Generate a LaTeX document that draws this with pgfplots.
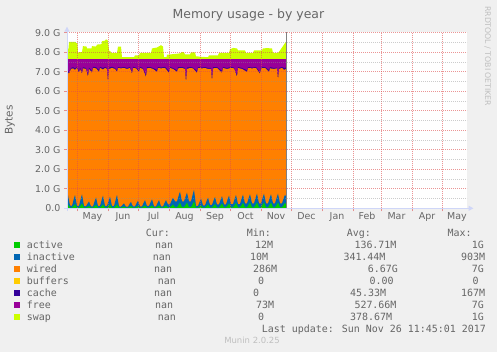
\documentclass[border=0pt]{standalone}
\usepackage{pgfplots}
\pgfplotsset{compat=1.18}
\usepackage{pgfplotstable}
\usepackage{fontspec}
\setmainfont{DejaVu Sans}
\newfontfamily\dejamono{DejaVu Sans Mono}
\usetikzlibrary{arrows.meta}
\definecolor{bg}{HTML}{F0F0F0}
\definecolor{fontc}{HTML}{666666}
\definecolor{axisc}{HTML}{CFD6F8}
\definecolor{cactive}{HTML}{00CC00}
\definecolor{cinactive}{HTML}{0066B3}
\definecolor{cwired}{HTML}{FF8000}
\definecolor{cbuffers}{HTML}{FFCC00}
\definecolor{ccache}{HTML}{330099}
\definecolor{cfree}{HTML}{990099}
\definecolor{cswap}{HTML}{CCFF00}
\definecolor{mgridc}{rgb}{0.87,0.31,0.31}
\definecolor{gridc}{rgb}{0.56,0.56,0.56}

% cumulative tops of active and inactive
\pgfplotstableread{
x act inact
-10 0.12 0.50
-9 0.20 0.68
-8 0.12 0.40
-7 0.04 0.15
-5 0.04 0.12
-3 0.15 0.52
-2 0.22 0.68
-1 0.13 0.40
0 0.04 0.12
2 0.04 0.12
4 0.17 0.54
5 0.25 0.72
6 0.15 0.42
7 0.04 0.12
9 0.04 0.10
11 0.09 0.28
12 0.12 0.35
13 0.07 0.22
14 0.04 0.10
16 0.04 0.10
18 0.13 0.42
19 0.18 0.56
20 0.11 0.33
21 0.04 0.12
23 0.04 0.12
25 0.14 0.49
26 0.20 0.65
27 0.12 0.38
28 0.04 0.12
30 0.04 0.12
32 0.14 0.45
33 0.20 0.60
34 0.12 0.36
35 0.04 0.12
37 0.04 0.12
39 0.14 0.51
40 0.20 0.68
41 0.12 0.40
42 0.04 0.10
44 0.03 0.08
46 0.07 0.20
47 0.10 0.25
48 0.06 0.16
49 0.03 0.08
51 0.03 0.08
53 0.09 0.26
54 0.12 0.33
55 0.07 0.20
56 0.03 0.10
58 0.03 0.10
60 0.09 0.30
61 0.12 0.39
62 0.07 0.24
63 0.04 0.10
65 0.04 0.10
67 0.11 0.32
68 0.15 0.42
69 0.09 0.26
70 0.04 0.12
72 0.04 0.12
74 0.11 0.36
75 0.15 0.46
76 0.09 0.29
77 0.04 0.10
79 0.04 0.10
81 0.11 0.32
82 0.15 0.42
83 0.09 0.26
84 0.04 0.10
86 0.04 0.10
88 0.11 0.32
89 0.15 0.42
90 0.09 0.30
91 0.04 0.20
93 0.05 0.20
95 0.14 0.44
96 0.20 0.54
97 0.12 0.45
98 0.05 0.35
100 0.05 0.35
102 0.21 0.71
103 0.30 0.86
104 0.18 0.60
105 0.06 0.35
107 0.06 0.35
109 0.21 0.67
110 0.30 0.80
111 0.18 0.58
112 0.06 0.35
114 0.06 0.35
116 0.25 0.77
117 0.35 0.95
118 0.20 0.55
119 0.04 0.12
121 0.04 0.12
123 0.11 0.38
124 0.15 0.50
125 0.09 0.32
126 0.04 0.15
128 0.04 0.15
130 0.14 0.43
131 0.20 0.55
132 0.12 0.36
133 0.04 0.18
135 0.04 0.18
137 0.15 0.46
138 0.22 0.58
139 0.13 0.38
140 0.04 0.20
142 0.04 0.20
144 0.17 0.49
145 0.25 0.62
146 0.15 0.41
147 0.05 0.20
149 0.05 0.20
151 0.17 0.52
152 0.25 0.65
153 0.15 0.43
154 0.05 0.22
156 0.05 0.22
158 0.19 0.54
159 0.28 0.68
160 0.17 0.45
161 0.05 0.22
163 0.05 0.22
165 0.19 0.56
166 0.28 0.70
167 0.17 0.47
168 0.05 0.25
170 0.05 0.25
172 0.21 0.58
173 0.30 0.72
174 0.18 0.49
175 0.05 0.25
177 0.05 0.25
179 0.21 0.60
180 0.30 0.75
181 0.18 0.50
182 0.05 0.25
184 0.05 0.25
186 0.21 0.60
187 0.30 0.75
188 0.18 0.50
189 0.05 0.25
191 0.05 0.25
193 0.21 0.58
194 0.30 0.72
195 0.18 0.49
196 0.05 0.25
198 0.05 0.25
200 0.21 0.60
201 0.30 0.75
202 0.18 0.50
203 0.05 0.25
205 0.05 0.25
207 0.20 0.56
208 0.28 0.70
209 0.20 0.60
}\bottomdata

% cumulative tops of wired and cache
\pgfplotstableread{
x wired cache
-10 7.05 7.12
-8 6.90 6.98
-6 7.15 7.20
-4 7.18 7.24
-2 7.10 7.18
0 7.20 7.25
2 6.95 7.05
3 7.15 7.22
5 6.90 7.00
6 7.18 7.24
9 7.15 7.20
11 6.75 6.85
12 7.15 7.22
15 6.95 7.05
16 7.20 7.26
19 7.18 7.24
22 7.00 7.10
23 7.20 7.25
26 7.12 7.20
28 7.20 7.25
30 7.15 7.20
31 6.43 6.50
32 7.15 7.22
35 7.20 7.26
38 7.15 7.20
40 7.00 7.08
41 7.20 7.25
44 7.18 7.22
47 7.20 7.25
50 7.15 7.20
53 7.20 7.25
55 6.90 7.00
56 7.20 7.26
59 7.18 7.22
62 7.00 7.08
63 7.20 7.25
66 7.15 7.20
69 6.73 6.82
70 7.18 7.24
73 7.20 7.25
76 7.15 7.20
80 7.00 7.10
81 7.20 7.25
84 7.18 7.22
88 7.20 7.26
92 6.95 7.05
93 7.20 7.25
96 7.15 7.20
100 7.00 7.08
101 7.18 7.24
105 7.20 7.25
108 7.15 7.20
109 6.43 6.50
110 7.15 7.22
113 7.20 7.25
116 7.18 7.22
120 6.95 7.05
121 7.20 7.25
125 7.18 7.22
128 7.20 7.25
131 7.15 7.20
134 7.15 7.20
135 6.50 6.60
136 7.18 7.24
140 7.20 7.25
145 6.95 7.05
146 7.20 7.25
150 7.15 7.20
154 7.20 7.25
157 7.18 7.22
160 6.75 6.85
161 7.20 7.25
165 7.15 7.20
170 7.00 7.08
171 7.20 7.25
175 7.18 7.22
179 7.20 7.25
183 6.90 7.00
184 7.18 7.24
188 7.20 7.25
192 7.00 7.10
193 7.18 7.24
197 7.15 7.20
200 7.18 7.22
201 6.58 6.65
202 7.15 7.20
205 7.20 7.25
207 7.10 7.20
209 7.15 7.22
}\middata

% cumulative top of free
\pgfplotstableread{
x free
-10 7.66
209 7.66
}\freedata

% cumulative top of swap
\pgfplotstableread{
x swap
-10 8.19
-8.5 8.19
-8 8.54
-1.5 8.54
-1 8.49
0.5 8.45
1 8.00
5 8.02
6 8.32
9.5 8.30
10 8.20
14.5 8.20
15 8.32
19 8.30
20 8.40
24.5 8.42
25 8.57
28 8.60
29 8.67
31 8.60
32 8.10
33.5 8.05
34 7.97
40 7.97
41 8.30
44 8.30
45 7.75
57 7.75
58 7.85
62 7.85
63 7.97
74 7.97
75 8.20
80 8.25
84 8.37
86 8.30
87 7.75
89.5 7.75
90 7.88
98 7.92
103 7.95
105 8.02
107 8.00
108 7.90
113 7.90
114 8.00
118 8.00
119 7.80
123 7.78
131 7.75
132 7.85
141 7.85
142 7.97
152 7.97
153 8.15
156 8.23
160 8.20
161 8.10
168 8.10
169 7.97
176 7.97
177 8.10
185 8.10
186 8.20
190 8.22
195 8.20
196 7.97
201 7.97
203 8.10
205 8.25
207 8.40
209 8.55
}\topdata

\begin{document}
\begin{tikzpicture}[x=1bp,y=1bp]
\fill[bg] (0,0) rectangle (497,352);
\begin{axis}[
  at={(67bp,143.7bp)}, anchor=south west,
  scale only axis, width=400bp, height=176bp,
  xmin=-10, xmax=390, ymin=0, ymax=9.03,
  axis background/.style={fill=white},
  axis line style={draw=none},
  axis on top,
  xtick={0,31,61,92,123,153,184,214,245,276,304,335,365},
  xticklabels={},
  extra x ticks={15.5,46,76.5,107.5,138,168.5,199,229.5,260,290,319.5,350,380},
  extra x tick labels={May,Jun,Jul,Aug,Sep,Oct,Nov,Dec,Jan,Feb,Mar,Apr,May},
  extra x tick style={grid=none, major tick length=0pt,
     xticklabel style={anchor=base, yshift=-11bp}},
  ytick={0,1,2,3,4,5,6,7,8,9},
  yticklabels={0.0,1.0 G,2.0 G,3.0 G,4.0 G,5.0 G,6.0 G,7.0 G,8.0 G,9.0 G},
  minor y tick num=1,
  ymajorgrids, yminorgrids, xmajorgrids,
  major grid style={mgridc, opacity=0.6, line width=0.8bp, dash pattern=on 1bp off 1bp},
  minor grid style={gridc, opacity=0.45, line width=0.8bp, dash pattern=on 1bp off 1bp},
  tick align=outside, xtick pos=bottom, ytick pos=left,
  major tick length=3bp, minor tick length=0pt,
  tick style={mgridc, opacity=0.6, line width=0.8bp},
  ticklabel style={font=\fontsize{9.5}{10}\selectfont, text=fontc},
  yticklabel style={anchor=base east, yshift=-3.4bp},
]
\addplot[fill=cswap, draw=none] table[x=x,y=swap]{\topdata} \closedcycle;
\addplot[fill=cfree, draw=none] table[x=x,y=free]{\freedata} \closedcycle;
\addplot[fill=ccache, draw=none] table[x=x,y=cache]{\middata} \closedcycle;
\addplot[fill=cwired, draw=none] table[x=x,y=wired]{\middata} \closedcycle;
\addplot[fill=cinactive, draw=none] table[x=x,y=inact]{\bottomdata} \closedcycle;
\addplot[fill=cactive, draw=none] table[x=x,y=act]{\bottomdata} \closedcycle;
\draw[color=black!50, line width=1bp] (axis cs:209.6,0) -- (axis cs:209.6,9.03);
\end{axis}
% axis lines with arrows
\draw[axisc, line width=1bp, -{Triangle[width=5bp,length=5bp]}] (67,141) -- (67,325.3);
\draw[axisc, line width=1bp, -{Triangle[width=5bp,length=5bp]}] (64,143.7) -- (473.5,143.7);
% title and labels
\node[font=\fontsize{12.5}{14}\selectfont, text=fontc, anchor=base, inner sep=0] at (248.4,333.7) {Memory usage - by year};
\node[font=\fontsize{10.5}{12}\selectfont, text=fontc, anchor=base, rotate=90, inner sep=0] at (12.5,232) {Bytes};
\node[font=\fontsize{7.8}{9}\selectfont, text=black!25, anchor=base west, rotate=-90, inner sep=0] at (485,346) {RRDTOOL / TOBI OETIKER};
% legend
\begin{scope}[every node/.style={font=\dejamono\fontsize{10}{12}\selectfont, text=fontc, anchor=base west, inner sep=0}]
\node at (145.7,115.5) {Cur:};
\node at (246.7,115.5) {Min:};
\node at (346.7,115.5) {Avg:};
\node at (447.3,115.5) {Max:};
\fill[cactive]   (14,103.7) rectangle (20,109.7);
\fill[cinactive] (14,91.7) rectangle (20,97.7);
\fill[cwired]    (14,79.7) rectangle (20,85.7);
\fill[cbuffers]  (14,67.7) rectangle (20,73.7);
\fill[ccache]    (14,55.7) rectangle (20,61.7);
\fill[cfree]     (14,43.7) rectangle (20,49.7);
\fill[cswap]     (14,31.7) rectangle (20,37.7);
\node at (26.7,103.5) {active};
\node at (26.7,91.5) {inactive};
\node at (26.7,79.5) {wired};
\node at (26.7,67.5) {buffers};
\node at (26.7,55.5) {cache};
\node at (26.7,43.5) {free};
\node at (26.7,31.5) {swap};
\node at (155,103.5) {nan};
\node at (152.7,91.5) {nan};
\node at (154,79.5) {nan};
\node at (157.7,67.5) {nan};
\node at (154,55.5) {nan};
\node at (155,43.5) {nan};
\node at (157.7,31.5) {nan};
\node at (255,103.5) {12M};
\node at (250,91.5) {10M};
\node at (253,79.5) {286M};
\node at (258,67.5) {0};
\node at (253,55.5) {0};
\node at (256,43.5) {73M};
\node at (258,31.5) {0};
\node at (354.3,103.5) {136.71M};
\node at (343.3,91.5) {341.44M};
\node at (367.7,79.5) {6.67G};
\node at (369.3,67.5) {0.00};
\node at (350,55.5) {45.33M};
\node at (354.3,43.5) {527.66M};
\node at (350,31.5) {378.67M};
\node at (471.7,103.5) {1G};
\node at (461,91.5) {903M};
\node at (471.7,79.5) {7G};
\node at (472.3,67.5) {0};
\node at (461,55.5) {167M};
\node at (471.7,43.5) {7G};
\node at (471.7,31.5) {1G};
\node at (261.7,19.7) {Last update: Sun Nov 26 11:45:01 2017};
\end{scope}
\node[font=\fontsize{8.5}{10}\selectfont, text=black!25, anchor=base, inner sep=0] at (252,8.5) {Munin 2.0.25};
\pgfresetboundingbox
\useasboundingbox (0,0) rectangle (497,352);
\end{tikzpicture}
\end{document}
